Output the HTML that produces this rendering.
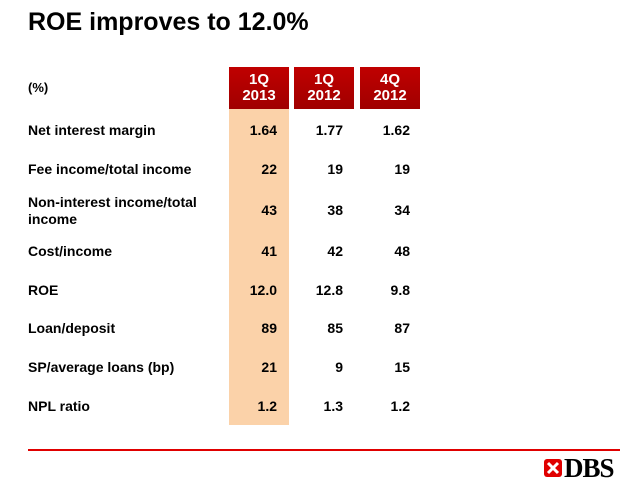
<!DOCTYPE html>
<html><head><style>
body{margin:0;width:640px;height:490px;background:#fff;position:relative;font-family:"Liberation Sans",Arial,sans-serif;overflow:hidden}
.t{position:absolute;white-space:nowrap}
.lab{left:28px;font-size:14px;font-weight:bold;color:#000}
.v{font-size:14px;font-weight:bold;color:#000;text-align:right;width:50px}
.hd{position:absolute;top:67px;width:60px;height:42px;background:linear-gradient(#c00000,#a00000);color:#fff;font-weight:bold;font-size:15px;text-align:center;line-height:16px;padding-top:5px;box-sizing:border-box}
</style></head><body>
<div class="t" style="left:28px;top:8px;font-size:25px;font-weight:bold">ROE improves to 12.0%</div>
<div class="t lab" style="top:80px;font-weight:bold;font-size:13px">(%)</div>
<div style="position:absolute;left:229px;top:109px;width:60px;height:316px;background:#fbd2a9"></div>
<div class="hd" style="left:229px">1Q<br>2013</div>
<div class="hd" style="left:294px">1Q<br>2012</div>
<div class="hd" style="left:360px">4Q<br>2012</div>
<div id="rows"></div>
<div style="position:absolute;left:28px;top:449px;width:592px;height:2px;background:#e00000"></div>
<svg style="position:absolute;left:543px;top:458px" width="20" height="20" viewBox="0 0 20 20"><rect x="1" y="1" width="18" height="18" rx="3" fill="#e00000"/><path d="M5 5L15 15M15 5L5 15" stroke="#fff" stroke-width="3"/></svg>
<div class="t" style="left:564px;top:453px;font-family:'Liberation Serif',serif;font-weight:bold;font-size:27px;letter-spacing:-1px">DBS</div>
<script>
const labels=["Net interest margin","Fee income/total income","Non-interest income/total|income","Cost/income","ROE","Loan/deposit","SP/average loans (bp)","NPL ratio"];
const col1=["1.64","22","43","41","12.0","89","21","1.2"];
const col2=["1.77","19","38","42","12.8","85","9","1.3"];
const col3=["1.62","19","34","48","9.8","87","15","1.2"];
const ys=[131,170,211,252,291,329,368,407];
const root=document.getElementById('rows');
labels.forEach((l,i)=>{
 const y=ys[i];
 const d=document.createElement('div');
 
 
 d.className='t lab';
 const parts=l.split('|');
 d.innerHTML=parts.join('<br>');
 d.style.top=(y-8*parts.length-1)+'px';
 d.style.lineHeight='17px';
 root.appendChild(d);
 [[col1,227],[col2,293],[col3,360]].forEach(([c,x])=>{
  const v=document.createElement('div');
  
  
  v.className='t v';v.textContent=c[i];
  v.style.left=x+'px';v.style.top=(y-9)+'px';
  root.appendChild(v);
 });
});
</script>
</body></html>
